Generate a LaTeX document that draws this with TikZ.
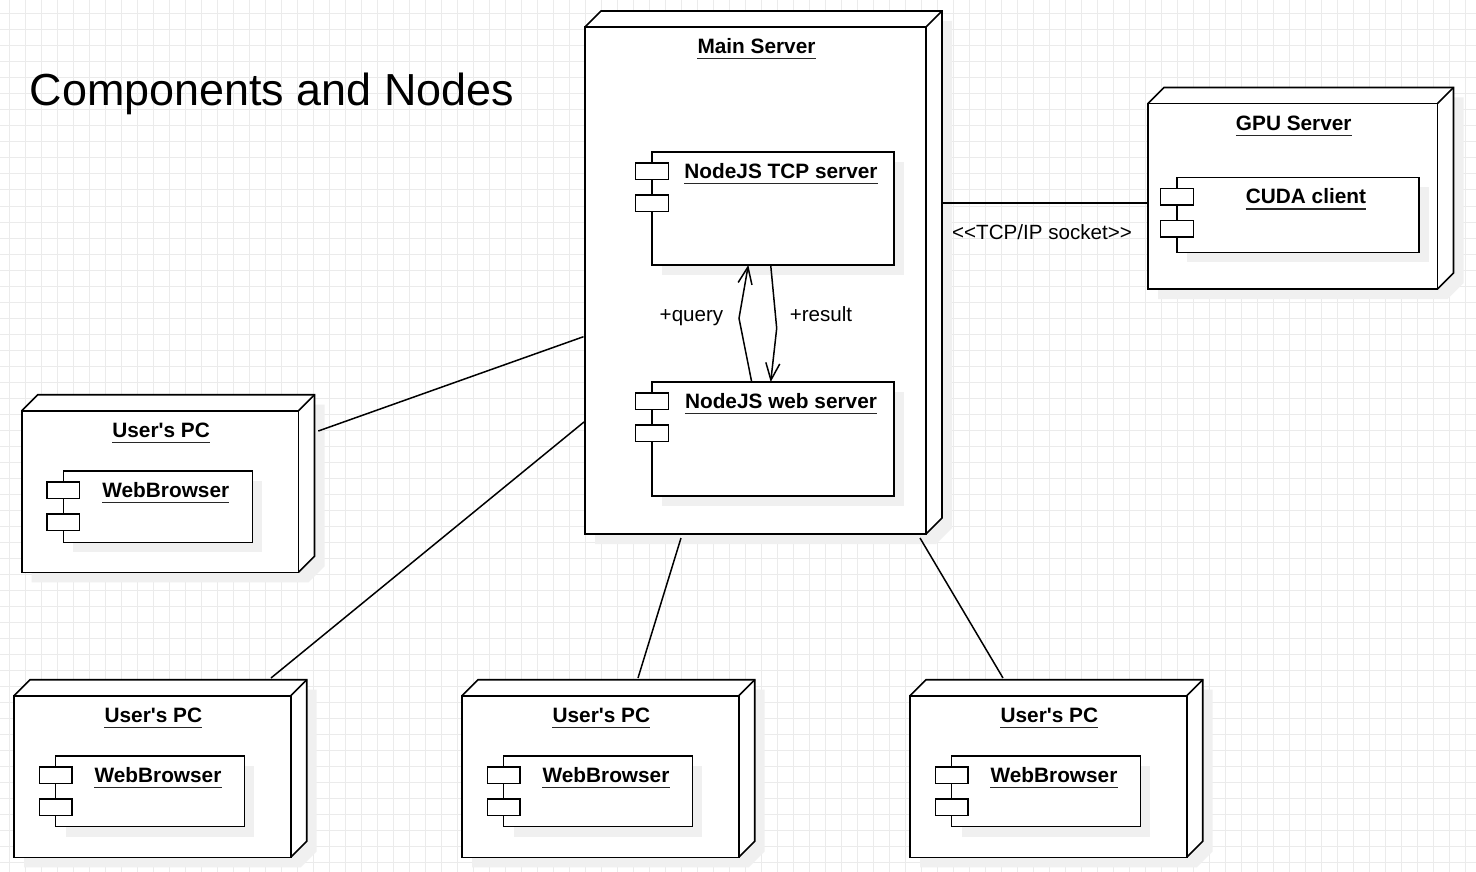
\documentclass[tikz,border=0pt]{standalone}
\usepackage{fontspec}
\setmainfont{Liberation Sans}[Ligatures=TeXOff]
\usetikzlibrary{arrows.meta,calc}
\definecolor{gridc}{RGB}{235,235,235}
\definecolor{shadowc}{RGB}{240,240,240}
\definecolor{ulc}{RGB}{40,40,40}
\tikzset{
  boxline/.style={line width=1.6pt, draw=black, line join=miter},
  face/.style={boxline, fill=white, inner sep=0pt, outer sep=0pt, anchor=north west, rectangle},
  ttl/.style={font=\fontsize{20.8}{24}\selectfont\bfseries, anchor=base, inner sep=0pt, text=black},
  lbl/.style={font=\fontsize{20.6}{24}\selectfont, anchor=base, inner sep=0pt, text=black},
  conn/.style={line width=1.5pt},
  flow/.style={line width=1.5pt, -{Straight Barb[length=17pt,width=14pt]}},
  ulline/.style={line width=1.4pt, draw=ulc},
}
\newcommand\devbox[6]{%
  \fill[shadowc] (#2+10,#3+10) -- (#2+26,#3-6) -- (#4+26,#3-6) -- (#4+26,#5-6) -- (#4+10,#5+10) -- (#2+10,#5+10) -- cycle;
  \fill[white] (#2,#3) -- (#2+16,#3-16) -- (#4+16,#3-16) -- (#4+16,#5-16) -- (#4,#5) -- (#2,#5) -- cycle;
  \draw[boxline] (#2,#3) -- (#2+16,#3-16) -- (#4+16,#3-16) -- (#4+16,#5-16) -- (#4,#5);
  \draw[boxline] (#4,#3) -- (#4+16,#3-16);
  \node[face, minimum width={(#4-#2)*1pt}, minimum height={(#5-#3)*1pt}] (#1) at (#2,#3) {};
  \node[ttl] (#1-t) at ({(#2+#4)/2+1},#3+27) {#6};
  \draw[ulline] ([yshift=-4.8pt]#1-t.base west) -- ([yshift=-4.8pt]#1-t.base east);
}
\newcommand\compbox[6]{%
  \fill[shadowc] (#2+10,#3+10) rectangle (#4+10,#5+10);
  \node[face, line width=1.5pt, minimum width={(#4-#2)*1pt}, minimum height={(#5-#3)*1pt}] (#1) at (#2,#3) {};
  \draw[boxline, line width=1.5pt, fill=white] (#2-16.3,#3+11) rectangle ++(32.6,16.3);
  \draw[boxline, line width=1.5pt, fill=white] (#2-16.3,#3+43) rectangle ++(32.6,16.3);
  \node[ttl] (#1-t) at ({(#2+#4)/2+8},#3+26.5) {#6};
  \draw[ulline] ([yshift=-5pt]#1-t.base west) -- ([yshift=-5pt]#1-t.base east);
}
\begin{document}
\begin{tikzpicture}[x=1pt,y=-1pt]
\useasboundingbox (0,0) rectangle (1476,872);
\fill[white] (0,0) rectangle (1476,872);
\foreach \i in {0,...,91} \draw[gridc, line width=1pt] (9.3+16*\i,0) -- (9.3+16*\i,872);
\foreach \j in {0,...,53} \draw[gridc, line width=1pt] (0,14+16*\j) -- (1476,14+16*\j);

\node[font=\fontsize{44.9}{50}\selectfont, anchor=base west, inner sep=0pt] (title) at (29.5,105.5) {Components and Nodes};

\devbox{main}{585}{27}{926}{534}{Main Server}
\compbox{tcp}{652}{152}{894}{265}{NodeJS TCP server}
\compbox{web}{652}{382}{894}{496}{NodeJS web server}

\devbox{gpu}{1148}{103.5}{1437.5}{289}{GPU Server}
\compbox{cuda}{1177}{177.5}{1419}{252.3}{CUDA client}

\devbox{upc1}{21.7}{410.7}{298.5}{572.3}{User's PC}
\compbox{wb1}{63.3}{471}{252.3}{542.3}{WebBrowser}

\devbox{upc2}{14}{695.7}{290.7}{857.3}{User's PC}
\compbox{wb2}{55.7}{756}{244.3}{826.7}{WebBrowser}
\devbox{upc3}{462}{695.7}{738.7}{857.3}{User's PC}
\compbox{wb3}{503.7}{756}{692.3}{826.7}{WebBrowser}
\devbox{upc4}{910}{695.7}{1186.7}{857.3}{User's PC}
\compbox{wb4}{951.7}{756}{1140.3}{826.7}{WebBrowser}

\draw[flow] ($(web.north west)+(99.7,0)$) -- (739,318.3) -- ($(tcp.south west)+(96.3,0)$);
\draw[flow] ($(tcp.south west)+(118.7,0)$) -- (776.7,328.3) -- ($(web.north west)+(118.7,0)$);
\node[lbl] (q) at (691.5,321) {+query};
\node[lbl] (r) at (821,321) {+result};

\draw[conn] ($(main.north east)+(17,176)$) -- ($(gpu.north west)+(0,99.5)$);
\node[lbl] (sock) at (1042,239) {<\kern0pt<TCP/IP socket>\kern0pt>};

\draw[conn] ($(main.north west)+(-1.5,309.7)$) -- ($(upc1.north east)+(19.8,20.3)$);
\draw[conn] ($(main.north west)+(-1,395)$) -- ($(upc2.north west)+(257,-17.7)$);
\draw[conn] ($(main.south west)+(96,4)$) -- ($(upc3.north west)+(176,-17.7)$);
\draw[conn] ($(main.south west)+(335,4)$) -- ($(upc4.north west)+(93,-17.7)$);
\end{tikzpicture}
\end{document}
